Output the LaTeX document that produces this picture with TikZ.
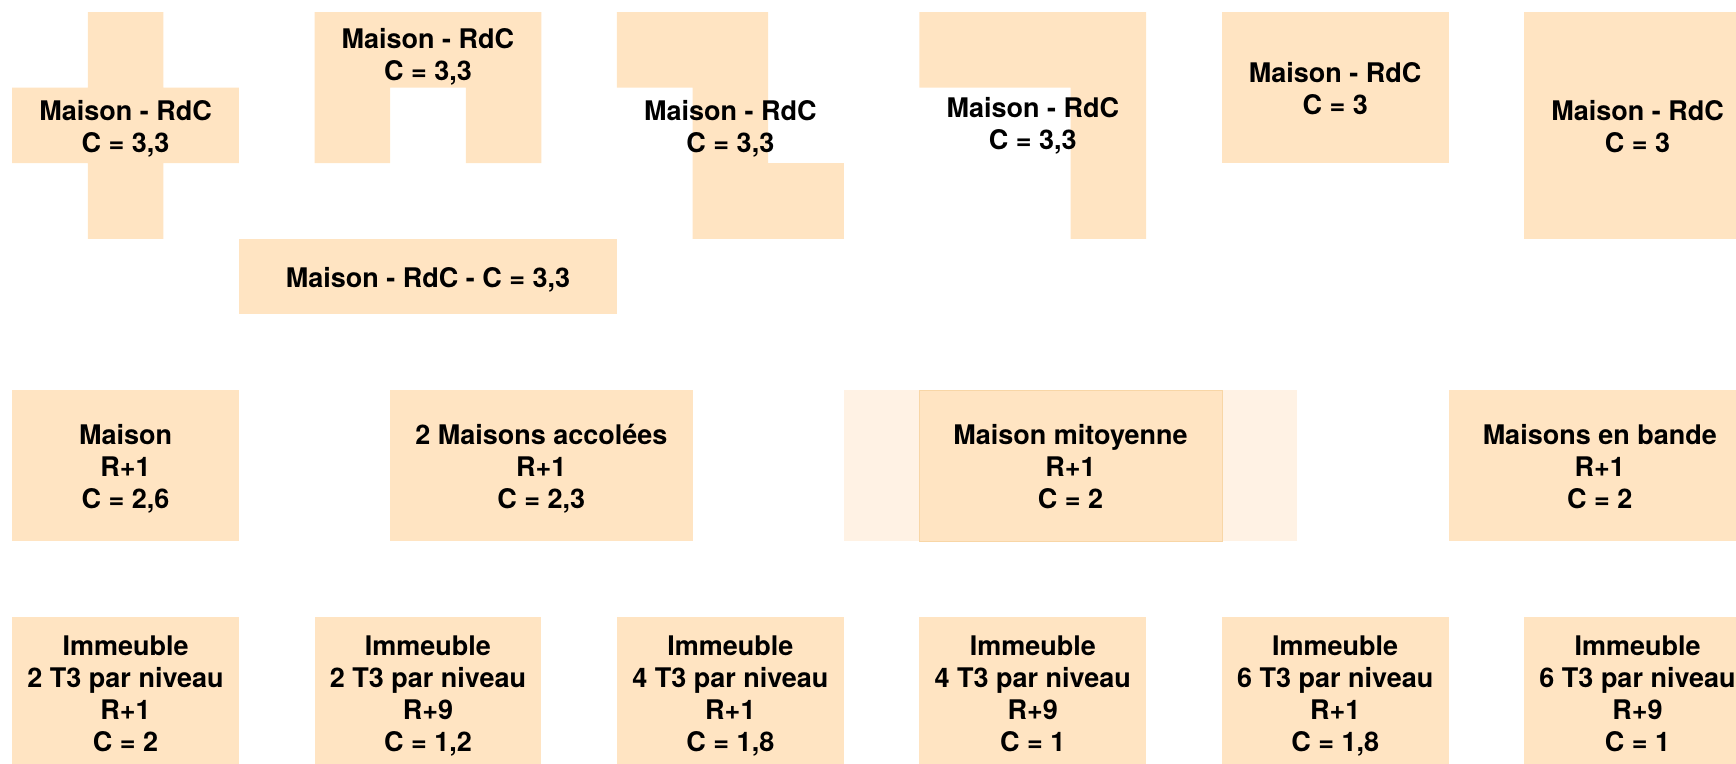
\documentclass[tikz,border=0pt]{standalone}
\usepackage{fontspec}
\setmainfont{TeX Gyre Heros}
\definecolor{plancolor}{HTML}{FFE4C2}
\definecolor{fadecolor}{HTML}{FFF2E4}
\definecolor{edgecolor}{HTML}{F8D6A6}
\def\cell{75.6pt}

\begin{document}
\begin{tikzpicture}[x=\cell, y=-\cell]
    \tikzstyle{plan}=[fill=plancolor, draw=none]
    \tikzstyle{caption}=[font=\fontsize{27}{32}\selectfont\bfseries, align=center, inner sep=0pt]
    \tikzstyle{box}=[plan, caption, rectangle, minimum width=3*\cell, minimum height=2*\cell]
    \tikzstyle{wide box}=[box, minimum width=4*\cell]
    \tikzstyle{lowered}=[caption, yshift=-4.5pt]

    % Frame of the page, the last column and row are cut off
    \useasboundingbox (-0.161,-0.159) rectangle (22.802,9.934);
    \clip (-0.161,-0.159) rectangle (22.802,9.934);

    % Ground floor plans (first row)
    \fill[plan] (1,0) -- (2,0) -- (2,1) -- (3,1) -- (3,2) -- (2,2) -- (2,3) -- (1,3)
        -- (1,2) -- (0,2) -- (0,1) -- (1,1) -- cycle;
    \node[lowered] (P-1) at (1.5,1.5) {\strut Maison - RdC\\C = 3,3\strut};

    \fill[plan] (4,0) -- (7,0) -- (7,2) -- (6,2) -- (6,1) -- (5,1) -- (5,2) -- (4,2) -- cycle;
    \node[lowered] (P-2) at (5.5,0.55) {\strut Maison - RdC\\C = 3,3\strut};

    \fill[plan] (3,3) rectangle (8,4);
    \node[lowered] (P-3) at (5.5,3.5) {\strut Maison - RdC - C = 3,3};

    \fill[plan] (8,0) -- (10,0) -- (10,2) -- (11,2) -- (11,3) -- (9,3) -- (9,1) -- (8,1) -- cycle;
    \node[lowered] (P-4) at (9.5,1.5) {\strut Maison - RdC\\C = 3,3\strut};

    \fill[plan] (12,0) -- (15,0) -- (15,3) -- (14,3) -- (14,1) -- (12,1) -- cycle;
    \node[lowered] (P-5) at (13.5,1.46) {\strut Maison - RdC\\C = 3,3\strut};

    \fill[plan] (16,0) rectangle (19,2);
    \node[lowered] (P-6) at (17.5,1) {\strut Maison - RdC\\C = 3\strut};
    \fill[plan] (20,0) rectangle (23,3);
    \node[lowered] (P-7) at (21.5,1.5) {\strut Maison - RdC\\C = 3\strut};

    % Houses with one upper floor (second row)
    \fill[plan] (0,5) rectangle (3,7);
    \node[lowered] (M-1) at (1.5,6) {\strut Maison\\R+1\\C = 2,6\strut};
    \fill[plan] (5,5) rectangle (9,7);
    \node[lowered] (M-2) at (7,6) {\strut 2 Maisons accolées\\R+1\\C = 2,3\strut};
    \fill[fadecolor] (11,5) rectangle (17,7);
    \filldraw[plan, draw=edgecolor, line width=0.4pt] (12,5) rectangle (16,7);
    \node[lowered] (M-3) at (14,6) {\strut Maison mitoyenne\\R+1\\C = 2\strut};
    \fill[plan] (19,5) rectangle (23,7);
    \node[lowered] (M-4) at (21,6) {\strut Maisons en bande\\R+1\\C = 2\strut};

    % Blocks of flats (third row)
    \foreach \i / \n / \r / \c in {0/2/1/2, 1/2/9/{1,2}, 2/4/1/{1,8}, 3/4/9/1, 4/6/1/{1,8}, 5/6/9/1} {
        \fill[plan] (4*\i,8) rectangle (4*\i+3,10);
        \node[lowered] (I-\i) at (4*\i+1.5,9) {\strut Immeuble\\\n{} T3 par niveau\\R+\r\\C = \c\strut};
    }
\end{tikzpicture}
\end{document}
